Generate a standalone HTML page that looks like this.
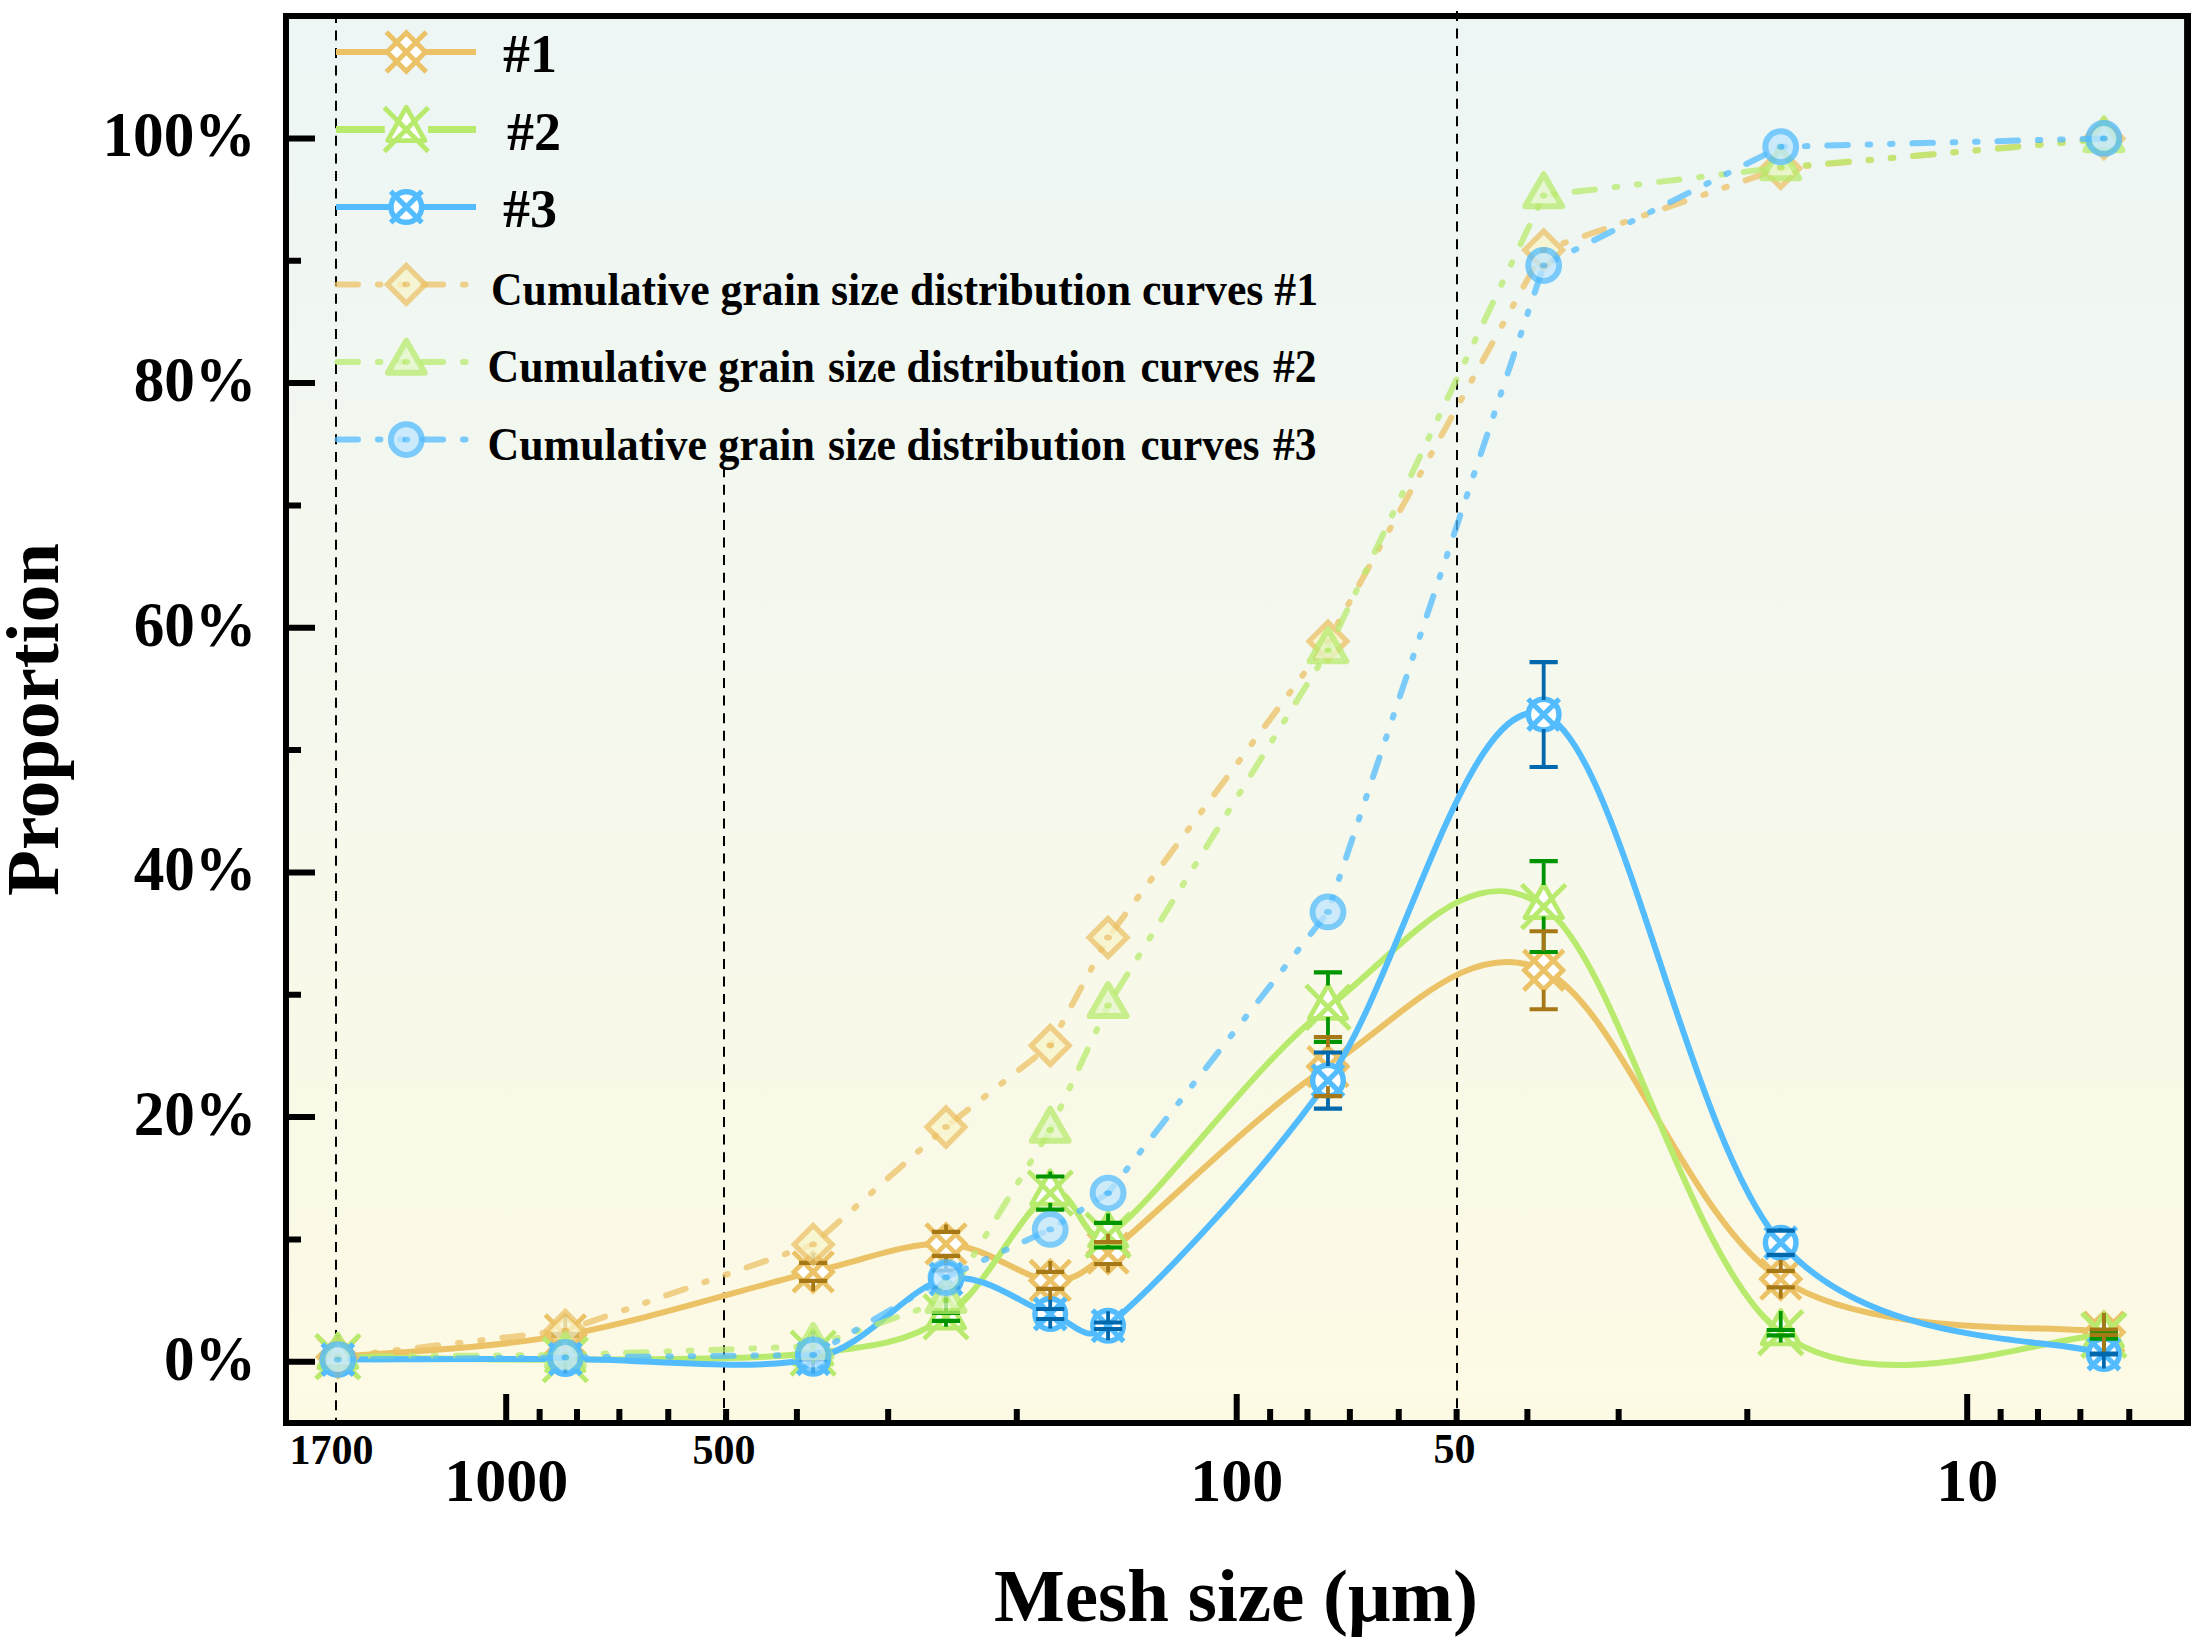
<!DOCTYPE html>
<html><head><meta charset="utf-8"><title>Grain size distribution</title>
<style>
html,body{margin:0;padding:0;background:#fff}
svg{display:block}
text{font-family:"Liberation Serif","Times New Roman",serif;font-weight:bold;fill:#000}
</style></head><body>
<svg width="2204" height="1648" viewBox="0 0 2204 1648">
<defs><linearGradient id="bg" x1="0" y1="0" x2="0" y2="1"><stop offset="0" stop-color="#EDF6F5"/><stop offset="1" stop-color="#FDFAE4"/></linearGradient></defs>
<rect width="2204" height="1648" fill="#fff"/>
<rect x="286" y="16" width="1902" height="1407" fill="url(#bg)"/>

<g stroke="#000" stroke-width="2" stroke-dasharray="10 7.56" fill="none">
<path d="M336 12.9V1422"/><path d="M724 467.3V1422"/><path d="M1457 10.9V1422"/></g>
<g stroke="#000" stroke-width="6" fill="none">
<path d="M286 1361.8H315M286 1117.12H315M286 872.44H315M286 627.76H315M286 383.08H315M286 138.4H315M286 1239.46H301M286 994.78H301M286 750.1H301M286 505.42H301M286 260.74H301M506.2 1423V1394M1236.7 1423V1394M1967.2 1423V1394M1016.8 1423V1409M888.16 1423V1409M796.9 1423V1409M726.1 1423V1409M668.26 1423V1409M619.36 1423V1409M576.99 1423V1409M539.63 1423V1409M1747.3 1423V1409M1618.66 1423V1409M1527.4 1423V1409M1456.6 1423V1409M1398.76 1423V1409M1349.86 1423V1409M1307.49 1423V1409M1270.13 1423V1409M2129.26 1423V1409M2080.36 1423V1409M2037.99 1423V1409M2000.63 1423V1409"/></g>
<path d="M337.86 1357C375.77 1353.32 486.09 1349.08 565.31 1334.9C644.53 1320.72 749.72 1287.07 813.17 1271.9C868.96 1258.56 906.5 1242.48 946 1243.9C985.51 1245.32 1023.21 1278.87 1050.22 1280.4C1074.52 1281.78 1083.77 1271.8 1108.07 1253.1C1154.36 1217.47 1255.37 1113.74 1327.97 1066.6C1400.57 1019.46 1468.21 934.83 1543.67 970.25C1619.13 1005.67 1687.36 1218.77 1780.72 1279.1C1874.09 1339.42 2050.01 1323.35 2103.87 1332.2" stroke="#ECC266" stroke-width="6" fill="none" stroke-linejoin="round"/>
<g transform="translate(337.86 1357)" stroke="#ECC266" stroke-width="4.8" fill="#fff"><path d="M0 -19.25L19.25 0L0 19.25L-19.25 0Z" stroke-linejoin="miter"/><path d="M-20 -20L20 20M-20 20L20 -20" fill="none"/></g>
<g transform="translate(565.31 1334.9)" stroke="#ECC266" stroke-width="4.8" fill="#fff"><path d="M0 -19.25L19.25 0L0 19.25L-19.25 0Z" stroke-linejoin="miter"/><path d="M-20 -20L20 20M-20 20L20 -20" fill="none"/></g>
<g transform="translate(813.17 1271.9)" stroke="#ECC266" stroke-width="4.8" fill="#fff"><path d="M0 -19.25L19.25 0L0 19.25L-19.25 0Z" stroke-linejoin="miter"/><path d="M-20 -20L20 20M-20 20L20 -20" fill="none"/></g>
<g transform="translate(946 1243.9)" stroke="#ECC266" stroke-width="4.8" fill="#fff"><path d="M0 -19.25L19.25 0L0 19.25L-19.25 0Z" stroke-linejoin="miter"/><path d="M-20 -20L20 20M-20 20L20 -20" fill="none"/></g>
<g transform="translate(1050.22 1280.4)" stroke="#ECC266" stroke-width="4.8" fill="#fff"><path d="M0 -19.25L19.25 0L0 19.25L-19.25 0Z" stroke-linejoin="miter"/><path d="M-20 -20L20 20M-20 20L20 -20" fill="none"/></g>
<g transform="translate(1108.07 1253.1)" stroke="#ECC266" stroke-width="4.8" fill="#fff"><path d="M0 -19.25L19.25 0L0 19.25L-19.25 0Z" stroke-linejoin="miter"/><path d="M-20 -20L20 20M-20 20L20 -20" fill="none"/></g>
<g transform="translate(1327.97 1066.6)" stroke="#ECC266" stroke-width="4.8" fill="#fff"><path d="M0 -19.25L19.25 0L0 19.25L-19.25 0Z" stroke-linejoin="miter"/><path d="M-20 -20L20 20M-20 20L20 -20" fill="none"/></g>
<g transform="translate(1543.67 970.25)" stroke="#ECC266" stroke-width="4.8" fill="#fff"><path d="M0 -19.25L19.25 0L0 19.25L-19.25 0Z" stroke-linejoin="miter"/><path d="M-20 -20L20 20M-20 20L20 -20" fill="none"/></g>
<g transform="translate(1780.72 1279.1)" stroke="#ECC266" stroke-width="4.8" fill="#fff"><path d="M0 -19.25L19.25 0L0 19.25L-19.25 0Z" stroke-linejoin="miter"/><path d="M-20 -20L20 20M-20 20L20 -20" fill="none"/></g>
<g transform="translate(2103.87 1332.2)" stroke="#ECC266" stroke-width="4.8" fill="#fff"><path d="M0 -19.25L19.25 0L0 19.25L-19.25 0Z" stroke-linejoin="miter"/><path d="M-20 -20L20 20M-20 20L20 -20" fill="none"/></g>
<path d="M337.86 1356.6C375.77 1357.1 486.09 1360.18 565.31 1359.6C644.53 1359.02 749.72 1360.22 813.17 1353.1C868.96 1346.84 906.5 1343.57 946 1316.9C985.51 1290.23 1023.21 1206.72 1050.22 1193.1C1074.52 1180.85 1083.77 1251.46 1108.07 1235.2C1154.36 1204.22 1255.37 1061.97 1327.97 1007.2C1400.57 952.43 1468.21 852.35 1543.67 906.6C1619.13 960.85 1687.36 1261.25 1780.72 1332.7C1874.09 1404.15 2050.01 1334.87 2103.87 1335.3" stroke="#B8EB6D" stroke-width="6" fill="none" stroke-linejoin="round"/>
<g transform="translate(337.86 1356.6)" stroke="#B8EB6D" stroke-width="4.8" fill="#fff"><path d="M0 -22.3L18.7 11.1L-18.7 11.1Z" stroke-linejoin="round"/><path d="M-22 -22L22 22M-22 22L22 -22" fill="none"/></g>
<g transform="translate(565.31 1359.6)" stroke="#B8EB6D" stroke-width="4.8" fill="#fff"><path d="M0 -22.3L18.7 11.1L-18.7 11.1Z" stroke-linejoin="round"/><path d="M-22 -22L22 22M-22 22L22 -22" fill="none"/></g>
<g transform="translate(813.17 1353.1)" stroke="#B8EB6D" stroke-width="4.8" fill="#fff"><path d="M0 -22.3L18.7 11.1L-18.7 11.1Z" stroke-linejoin="round"/><path d="M-22 -22L22 22M-22 22L22 -22" fill="none"/></g>
<g transform="translate(946 1316.9)" stroke="#B8EB6D" stroke-width="4.8" fill="#fff"><path d="M0 -22.3L18.7 11.1L-18.7 11.1Z" stroke-linejoin="round"/><path d="M-22 -22L22 22M-22 22L22 -22" fill="none"/></g>
<g transform="translate(1050.22 1193.1)" stroke="#B8EB6D" stroke-width="4.8" fill="#fff"><path d="M0 -22.3L18.7 11.1L-18.7 11.1Z" stroke-linejoin="round"/><path d="M-22 -22L22 22M-22 22L22 -22" fill="none"/></g>
<g transform="translate(1108.07 1235.2)" stroke="#B8EB6D" stroke-width="4.8" fill="#fff"><path d="M0 -22.3L18.7 11.1L-18.7 11.1Z" stroke-linejoin="round"/><path d="M-22 -22L22 22M-22 22L22 -22" fill="none"/></g>
<g transform="translate(1327.97 1007.2)" stroke="#B8EB6D" stroke-width="4.8" fill="#fff"><path d="M0 -22.3L18.7 11.1L-18.7 11.1Z" stroke-linejoin="round"/><path d="M-22 -22L22 22M-22 22L22 -22" fill="none"/></g>
<g transform="translate(1543.67 906.6)" stroke="#B8EB6D" stroke-width="4.8" fill="#fff"><path d="M0 -22.3L18.7 11.1L-18.7 11.1Z" stroke-linejoin="round"/><path d="M-22 -22L22 22M-22 22L22 -22" fill="none"/></g>
<g transform="translate(1780.72 1332.7)" stroke="#B8EB6D" stroke-width="4.8" fill="#fff"><path d="M0 -22.3L18.7 11.1L-18.7 11.1Z" stroke-linejoin="round"/><path d="M-22 -22L22 22M-22 22L22 -22" fill="none"/></g>
<g transform="translate(2103.87 1335.3)" stroke="#B8EB6D" stroke-width="4.8" fill="#fff"><path d="M0 -22.3L18.7 11.1L-18.7 11.1Z" stroke-linejoin="round"/><path d="M-22 -22L22 22M-22 22L22 -22" fill="none"/></g>
<path d="M337.86 1359.6C375.77 1359.48 486.09 1359.04 565.31 1358.9C644.53 1358.76 749.72 1372.07 813.17 1358.75C868.96 1347.04 906.5 1286.46 946 1279C985.51 1271.54 1023.21 1306.21 1050.22 1314C1074.52 1321.01 1083.77 1346.16 1108.07 1325.75C1154.36 1286.85 1255.37 1182.46 1327.97 1080.6C1400.57 978.74 1468.21 687.58 1543.67 714.6C1619.13 741.62 1687.36 1136.18 1780.72 1242.75C1874.09 1349.32 2050.01 1335.46 2103.87 1354" stroke="#52BCFF" stroke-width="6" fill="none" stroke-linejoin="round"/>
<g transform="translate(337.86 1359.6)" stroke="#52BCFF" stroke-width="5.4" fill="#fff"><circle r="15.3"/><path d="M-15.6 -15.6L15.6 15.6M-15.6 15.6L15.6 -15.6" fill="none" stroke-width="5.2"/></g>
<g transform="translate(565.31 1358.9)" stroke="#52BCFF" stroke-width="5.4" fill="#fff"><circle r="15.3"/><path d="M-15.6 -15.6L15.6 15.6M-15.6 15.6L15.6 -15.6" fill="none" stroke-width="5.2"/></g>
<g transform="translate(813.17 1358.75)" stroke="#52BCFF" stroke-width="5.4" fill="#fff"><circle r="15.3"/><path d="M-15.6 -15.6L15.6 15.6M-15.6 15.6L15.6 -15.6" fill="none" stroke-width="5.2"/></g>
<g transform="translate(946 1279)" stroke="#52BCFF" stroke-width="5.4" fill="#fff"><circle r="15.3"/><path d="M-15.6 -15.6L15.6 15.6M-15.6 15.6L15.6 -15.6" fill="none" stroke-width="5.2"/></g>
<g transform="translate(1050.22 1314)" stroke="#52BCFF" stroke-width="5.4" fill="#fff"><circle r="15.3"/><path d="M-15.6 -15.6L15.6 15.6M-15.6 15.6L15.6 -15.6" fill="none" stroke-width="5.2"/></g>
<g transform="translate(1108.07 1325.75)" stroke="#52BCFF" stroke-width="5.4" fill="#fff"><circle r="15.3"/><path d="M-15.6 -15.6L15.6 15.6M-15.6 15.6L15.6 -15.6" fill="none" stroke-width="5.2"/></g>
<g transform="translate(1327.97 1080.6)" stroke="#52BCFF" stroke-width="5.4" fill="#fff"><circle r="15.3"/><path d="M-15.6 -15.6L15.6 15.6M-15.6 15.6L15.6 -15.6" fill="none" stroke-width="5.2"/></g>
<g transform="translate(1543.67 714.6)" stroke="#52BCFF" stroke-width="5.4" fill="#fff"><circle r="15.3"/><path d="M-15.6 -15.6L15.6 15.6M-15.6 15.6L15.6 -15.6" fill="none" stroke-width="5.2"/></g>
<g transform="translate(1780.72 1242.75)" stroke="#52BCFF" stroke-width="5.4" fill="#fff"><circle r="15.3"/><path d="M-15.6 -15.6L15.6 15.6M-15.6 15.6L15.6 -15.6" fill="none" stroke-width="5.2"/></g>
<g transform="translate(2103.87 1354)" stroke="#52BCFF" stroke-width="5.4" fill="#fff"><circle r="15.3"/><path d="M-15.6 -15.6L15.6 15.6M-15.6 15.6L15.6 -15.6" fill="none" stroke-width="5.2"/></g>
<g stroke="#0069AD" fill="none"><path d="M337.86 1359.3V1345.1M337.86 1359.9V1374.1" stroke-width="3.8"/><path d="M323.76 1359.3H351.96M323.76 1359.9H351.96" stroke-width="4.2"/></g>
<g stroke="#0069AD" fill="none"><path d="M565.31 1358.4V1344.4M565.31 1359.4V1373.4" stroke-width="3.8"/><path d="M551.21 1358.4H579.41M551.21 1359.4H579.41" stroke-width="4.2"/></g>
<g stroke="#0069AD" fill="none"><path d="M813.17 1357.95V1344.25M813.17 1359.55V1373.25" stroke-width="3.8"/><path d="M799.07 1357.95H827.27M799.07 1359.55H827.27" stroke-width="4.2"/></g>
<g stroke="#0069AD" fill="none"><path d="M946 1270.5V1264.5M946 1287.5V1293.5" stroke-width="3.8"/><path d="M931.9 1270.5H960.1M931.9 1287.5H960.1" stroke-width="4.2"/></g>
<g stroke="#0069AD" fill="none"><path d="M1050.22 1309V1299.5M1050.22 1319V1328.5" stroke-width="3.8"/><path d="M1036.12 1309H1064.32M1036.12 1319H1064.32" stroke-width="4.2"/></g>
<g stroke="#0069AD" fill="none"><path d="M1108.07 1322.5V1311.25M1108.07 1329V1340.25" stroke-width="3.8"/><path d="M1093.97 1322.5H1122.17M1093.97 1329H1122.17" stroke-width="4.2"/></g>
<g stroke="#0069AD" fill="none"><path d="M1327.97 1052.5V1066.1M1327.97 1108.7V1095.1" stroke-width="3.8"/><path d="M1313.87 1052.5H1342.07M1313.87 1108.7H1342.07" stroke-width="4.2"/></g>
<g stroke="#0069AD" fill="none"><path d="M1543.67 662.2V700.1M1543.67 767V729.1" stroke-width="3.8"/><path d="M1529.57 662.2H1557.77M1529.57 767H1557.77" stroke-width="4.2"/></g>
<g stroke="#0069AD" fill="none"><path d="M1780.72 1230.69V1228.25M1780.72 1254.81V1257.25" stroke-width="3.8"/><path d="M1766.62 1230.69H1794.82M1766.62 1254.81H1794.82" stroke-width="4.2"/></g>
<g stroke="#0069AD" fill="none"><path d="M2103.87 1353.6V1339.5M2103.87 1354.4V1368.5" stroke-width="3.8"/><path d="M2089.77 1353.6H2117.97M2089.77 1354.4H2117.97" stroke-width="4.2"/></g>
<g stroke="#009400" fill="none"><path d="M337.86 1356.1V1335M337.86 1357.1V1366.5" stroke-width="3.8"/><path d="M323.76 1356.1H351.96M323.76 1357.1H351.96" stroke-width="4.2"/></g>
<g stroke="#009400" fill="none"><path d="M565.31 1359.1V1338M565.31 1360.1V1369.5" stroke-width="3.8"/><path d="M551.21 1359.1H579.41M551.21 1360.1H579.41" stroke-width="4.2"/></g>
<g stroke="#009400" fill="none"><path d="M813.17 1352.1V1331.5M813.17 1354.1V1363" stroke-width="3.8"/><path d="M799.07 1352.1H827.27M799.07 1354.1H827.27" stroke-width="4.2"/></g>
<g stroke="#009400" fill="none"><path d="M946 1312.9V1295.3M946 1320.9V1326.8" stroke-width="3.8"/><path d="M931.9 1312.9H960.1M931.9 1320.9H960.1" stroke-width="4.2"/></g>
<g stroke="#009400" fill="none"><path d="M1050.22 1176.5V1171.5M1050.22 1209.7V1203" stroke-width="3.8"/><path d="M1036.12 1176.5H1064.32M1036.12 1209.7H1064.32" stroke-width="4.2"/></g>
<g stroke="#009400" fill="none"><path d="M1108.07 1222.9V1213.6M1108.07 1247.5V1245.1" stroke-width="3.8"/><path d="M1093.97 1222.9H1122.17M1093.97 1247.5H1122.17" stroke-width="4.2"/></g>
<g stroke="#009400" fill="none"><path d="M1327.97 972.45V985.6M1327.97 1041.95V1017.1" stroke-width="3.8"/><path d="M1313.87 972.45H1342.07M1313.87 1041.95H1342.07" stroke-width="4.2"/></g>
<g stroke="#009400" fill="none"><path d="M1543.67 861.2V885M1543.67 952V916.5" stroke-width="3.8"/><path d="M1529.57 861.2H1557.77M1529.57 952H1557.77" stroke-width="4.2"/></g>
<g stroke="#009400" fill="none"><path d="M1780.72 1330V1311.1M1780.72 1335.4V1342.6" stroke-width="3.8"/><path d="M1766.62 1330H1794.82M1766.62 1335.4H1794.82" stroke-width="4.2"/></g>
<g stroke="#009400" fill="none"><path d="M2103.87 1332V1313.7M2103.87 1338.6V1345.2" stroke-width="3.8"/><path d="M2089.77 1332H2117.97M2089.77 1338.6H2117.97" stroke-width="4.2"/></g>
<g stroke="#A67816" fill="none"><path d="M337.86 1356.5V1337.6M337.86 1357.5V1376.4" stroke-width="3.8"/><path d="M323.76 1356.5H351.96M323.76 1357.5H351.96" stroke-width="4.2"/></g>
<g stroke="#A67816" fill="none"><path d="M565.31 1333.9V1315.5M565.31 1335.9V1354.3" stroke-width="3.8"/><path d="M551.21 1333.9H579.41M551.21 1335.9H579.41" stroke-width="4.2"/></g>
<g stroke="#A67816" fill="none"><path d="M813.17 1262.84V1252.5M813.17 1280.96V1291.3" stroke-width="3.8"/><path d="M799.07 1262.84H827.27M799.07 1280.96H827.27" stroke-width="4.2"/></g>
<g stroke="#A67816" fill="none"><path d="M946 1231.9V1224.5M946 1255.9V1263.3" stroke-width="3.8"/><path d="M931.9 1231.9H960.1M931.9 1255.9H960.1" stroke-width="4.2"/></g>
<g stroke="#A67816" fill="none"><path d="M1050.22 1271.84V1261M1050.22 1288.96V1299.8" stroke-width="3.8"/><path d="M1036.12 1271.84H1064.32M1036.12 1288.96H1064.32" stroke-width="4.2"/></g>
<g stroke="#A67816" fill="none"><path d="M1108.07 1242.2V1233.7M1108.07 1264V1272.5" stroke-width="3.8"/><path d="M1093.97 1242.2H1122.17M1093.97 1264H1122.17" stroke-width="4.2"/></g>
<g stroke="#A67816" fill="none"><path d="M1327.97 1037V1047.2M1327.97 1096.2V1086" stroke-width="3.8"/><path d="M1313.87 1037H1342.07M1313.87 1096.2H1342.07" stroke-width="4.2"/></g>
<g stroke="#A67816" fill="none"><path d="M1543.67 931.25V950.85M1543.67 1009.25V989.65" stroke-width="3.8"/><path d="M1529.57 931.25H1557.77M1529.57 1009.25H1557.77" stroke-width="4.2"/></g>
<g stroke="#A67816" fill="none"><path d="M1780.72 1270.9V1259.7M1780.72 1287.3V1298.5" stroke-width="3.8"/><path d="M1766.62 1270.9H1794.82M1766.62 1287.3H1794.82" stroke-width="4.2"/></g>
<g stroke="#A67816" fill="none"><path d="M2103.87 1329.5V1312.8M2103.87 1334.9V1351.6" stroke-width="3.8"/><path d="M2089.77 1329.5H2117.97M2089.77 1334.9H2117.97" stroke-width="4.2"/></g>
<path d="M2103.87 138.5 L1780.72 168.25 L1543.67 250 L1327.97 641.25 L1108.07 937.5 L1050.22 1045.5 L946 1127 L813.17 1244.4 L565.31 1330.5 L337.86 1357" stroke="#ECC266" stroke-width="6" fill="none" stroke-dasharray="20.5 19.9 2.5 19.8 2.5 19.9" stroke-dashoffset="-0.85" stroke-linecap="round" opacity="0.75"/>
<g transform="translate(337.86 1357)" opacity="0.75"><path d="M0 -18.9L18.9 0L0 18.9L-18.9 0Z" stroke="#ECC266" stroke-width="5.3" fill="#F8F5C9"/><ellipse rx="3.9" ry="2.9" fill="#ECC266"/></g>
<g transform="translate(565.31 1330.5)" opacity="0.75"><path d="M0 -18.9L18.9 0L0 18.9L-18.9 0Z" stroke="#ECC266" stroke-width="5.3" fill="#F8F5C9"/><ellipse rx="3.9" ry="2.9" fill="#ECC266"/></g>
<g transform="translate(813.17 1244.4)" opacity="0.75"><path d="M0 -18.9L18.9 0L0 18.9L-18.9 0Z" stroke="#ECC266" stroke-width="5.3" fill="#F8F5C9"/><ellipse rx="3.9" ry="2.9" fill="#ECC266"/></g>
<g transform="translate(946 1127)" opacity="0.75"><path d="M0 -18.9L18.9 0L0 18.9L-18.9 0Z" stroke="#ECC266" stroke-width="5.3" fill="#F8F5C9"/><ellipse rx="3.9" ry="2.9" fill="#ECC266"/></g>
<g transform="translate(1050.22 1045.5)" opacity="0.75"><path d="M0 -18.9L18.9 0L0 18.9L-18.9 0Z" stroke="#ECC266" stroke-width="5.3" fill="#F8F5C9"/><ellipse rx="3.9" ry="2.9" fill="#ECC266"/></g>
<g transform="translate(1108.07 937.5)" opacity="0.75"><path d="M0 -18.9L18.9 0L0 18.9L-18.9 0Z" stroke="#ECC266" stroke-width="5.3" fill="#F8F5C9"/><ellipse rx="3.9" ry="2.9" fill="#ECC266"/></g>
<g transform="translate(1327.97 641.25)" opacity="0.75"><path d="M0 -18.9L18.9 0L0 18.9L-18.9 0Z" stroke="#ECC266" stroke-width="5.3" fill="#F8F5C9"/><ellipse rx="3.9" ry="2.9" fill="#ECC266"/></g>
<g transform="translate(1543.67 250)" opacity="0.75"><path d="M0 -18.9L18.9 0L0 18.9L-18.9 0Z" stroke="#ECC266" stroke-width="5.3" fill="#F8F5C9"/><ellipse rx="3.9" ry="2.9" fill="#ECC266"/></g>
<g transform="translate(1780.72 168.25)" opacity="0.75"><path d="M0 -18.9L18.9 0L0 18.9L-18.9 0Z" stroke="#ECC266" stroke-width="5.3" fill="#F8F5C9"/><ellipse rx="3.9" ry="2.9" fill="#ECC266"/></g>
<g transform="translate(2103.87 138.5)" opacity="0.75"><path d="M0 -18.9L18.9 0L0 18.9L-18.9 0Z" stroke="#ECC266" stroke-width="5.3" fill="#F8F5C9"/><ellipse rx="3.9" ry="2.9" fill="#ECC266"/></g>
<path d="M2103.87 139.5 L1780.72 167.5 L1543.67 195.5 L1327.97 650.6 L1108.07 1005.4 L1050.22 1130 L946 1300.25 L813.17 1346.3 L565.31 1355 L337.86 1356.6" stroke="#B8EB6D" stroke-width="6" fill="none" stroke-dasharray="20.5 19.9 2.5 19.8 2.5 19.9" stroke-dashoffset="-0.85" stroke-linecap="round" opacity="0.75"/>
<g transform="translate(337.86 1356.6)" opacity="0.75"><path d="M0 -21.3L18.45 10.65L-18.45 10.65Z" stroke="#B8EB6D" stroke-width="6" fill="#E4F7C8" stroke-linejoin="round"/><ellipse rx="3.9" ry="2.9" fill="#B8EB6D"/></g>
<g transform="translate(565.31 1355)" opacity="0.75"><path d="M0 -21.3L18.45 10.65L-18.45 10.65Z" stroke="#B8EB6D" stroke-width="6" fill="#E4F7C8" stroke-linejoin="round"/><ellipse rx="3.9" ry="2.9" fill="#B8EB6D"/></g>
<g transform="translate(813.17 1346.3)" opacity="0.75"><path d="M0 -21.3L18.45 10.65L-18.45 10.65Z" stroke="#B8EB6D" stroke-width="6" fill="#E4F7C8" stroke-linejoin="round"/><ellipse rx="3.9" ry="2.9" fill="#B8EB6D"/></g>
<g transform="translate(946 1300.25)" opacity="0.75"><path d="M0 -21.3L18.45 10.65L-18.45 10.65Z" stroke="#B8EB6D" stroke-width="6" fill="#E4F7C8" stroke-linejoin="round"/><ellipse rx="3.9" ry="2.9" fill="#B8EB6D"/></g>
<g transform="translate(1050.22 1130)" opacity="0.75"><path d="M0 -21.3L18.45 10.65L-18.45 10.65Z" stroke="#B8EB6D" stroke-width="6" fill="#E4F7C8" stroke-linejoin="round"/><ellipse rx="3.9" ry="2.9" fill="#B8EB6D"/></g>
<g transform="translate(1108.07 1005.4)" opacity="0.75"><path d="M0 -21.3L18.45 10.65L-18.45 10.65Z" stroke="#B8EB6D" stroke-width="6" fill="#E4F7C8" stroke-linejoin="round"/><ellipse rx="3.9" ry="2.9" fill="#B8EB6D"/></g>
<g transform="translate(1327.97 650.6)" opacity="0.75"><path d="M0 -21.3L18.45 10.65L-18.45 10.65Z" stroke="#B8EB6D" stroke-width="6" fill="#E4F7C8" stroke-linejoin="round"/><ellipse rx="3.9" ry="2.9" fill="#B8EB6D"/></g>
<g transform="translate(1543.67 195.5)" opacity="0.75"><path d="M0 -21.3L18.45 10.65L-18.45 10.65Z" stroke="#B8EB6D" stroke-width="6" fill="#E4F7C8" stroke-linejoin="round"/><ellipse rx="3.9" ry="2.9" fill="#B8EB6D"/></g>
<g transform="translate(1780.72 167.5)" opacity="0.75"><path d="M0 -21.3L18.45 10.65L-18.45 10.65Z" stroke="#B8EB6D" stroke-width="6" fill="#E4F7C8" stroke-linejoin="round"/><ellipse rx="3.9" ry="2.9" fill="#B8EB6D"/></g>
<g transform="translate(2103.87 139.5)" opacity="0.75"><path d="M0 -21.3L18.45 10.65L-18.45 10.65Z" stroke="#B8EB6D" stroke-width="6" fill="#E4F7C8" stroke-linejoin="round"/><ellipse rx="3.9" ry="2.9" fill="#B8EB6D"/></g>
<path d="M2103.87 138.4 L1780.72 146.75 L1543.67 265.5 L1327.97 911.9 L1108.07 1193.1 L1050.22 1229.4 L946 1277.5 L813.17 1355 L565.31 1357.5 L337.86 1359.6" stroke="#52BCFF" stroke-width="6" fill="none" stroke-dasharray="20.5 19.9 2.5 19.8 2.5 19.9" stroke-dashoffset="-0.85" stroke-linecap="round" opacity="0.75"/>
<g transform="translate(337.86 1359.6)" opacity="0.75"><circle r="15.4" stroke="#52BCFF" stroke-width="6" fill="#BEE6FF"/><ellipse rx="3.9" ry="2.9" fill="#52BCFF"/></g>
<g transform="translate(565.31 1357.5)" opacity="0.75"><circle r="15.4" stroke="#52BCFF" stroke-width="6" fill="#BEE6FF"/><ellipse rx="3.9" ry="2.9" fill="#52BCFF"/></g>
<g transform="translate(813.17 1355)" opacity="0.75"><circle r="15.4" stroke="#52BCFF" stroke-width="6" fill="#BEE6FF"/><ellipse rx="3.9" ry="2.9" fill="#52BCFF"/></g>
<g transform="translate(946 1277.5)" opacity="0.75"><circle r="15.4" stroke="#52BCFF" stroke-width="6" fill="#BEE6FF"/><ellipse rx="3.9" ry="2.9" fill="#52BCFF"/></g>
<g transform="translate(1050.22 1229.4)" opacity="0.75"><circle r="15.4" stroke="#52BCFF" stroke-width="6" fill="#BEE6FF"/><ellipse rx="3.9" ry="2.9" fill="#52BCFF"/></g>
<g transform="translate(1108.07 1193.1)" opacity="0.75"><circle r="15.4" stroke="#52BCFF" stroke-width="6" fill="#BEE6FF"/><ellipse rx="3.9" ry="2.9" fill="#52BCFF"/></g>
<g transform="translate(1327.97 911.9)" opacity="0.75"><circle r="15.4" stroke="#52BCFF" stroke-width="6" fill="#BEE6FF"/><ellipse rx="3.9" ry="2.9" fill="#52BCFF"/></g>
<g transform="translate(1543.67 265.5)" opacity="0.75"><circle r="15.4" stroke="#52BCFF" stroke-width="6" fill="#BEE6FF"/><ellipse rx="3.9" ry="2.9" fill="#52BCFF"/></g>
<g transform="translate(1780.72 146.75)" opacity="0.75"><circle r="15.4" stroke="#52BCFF" stroke-width="6" fill="#BEE6FF"/><ellipse rx="3.9" ry="2.9" fill="#52BCFF"/></g>
<g transform="translate(2103.87 138.4)" opacity="0.75"><circle r="15.4" stroke="#52BCFF" stroke-width="6" fill="#BEE6FF"/><ellipse rx="3.9" ry="2.9" fill="#52BCFF"/></g>
<rect x="286" y="16" width="1902" height="1407" fill="none" stroke="#000" stroke-width="6"/>
<path d="M2187.55 13V1426" stroke="#000" stroke-width="6.9"/>
<path d="M336 52H476" stroke="#ECC266" stroke-width="6"/><g transform="translate(406.3 52)" stroke="#ECC266" stroke-width="4.8" fill="#fff"><path d="M0 -19.25L19.25 0L0 19.25L-19.25 0Z" stroke-linejoin="miter"/><path d="M-20 -20L20 20M-20 20L20 -20" fill="none"/></g>
<path d="M336 129.5H384.8M428 129.5H476" stroke="#B8EB6D" stroke-width="7"/><g transform="translate(406.3 129.5)" stroke="#B8EB6D" stroke-width="4.8" fill="#fff"><path d="M0 -22.3L18.7 11.1L-18.7 11.1Z" stroke-linejoin="round"/><path d="M-22 -22L22 22M-22 22L22 -22" fill="none"/></g>
<path d="M336 207H476" stroke="#52BCFF" stroke-width="6"/><g transform="translate(406.3 207)" stroke="#52BCFF" stroke-width="5.4" fill="#fff"><circle r="15.3"/><path d="M-15.6 -15.6L15.6 15.6M-15.6 15.6L15.6 -15.6" fill="none" stroke-width="5.2"/></g>
<path d="M337.5 284.4H476" stroke="#ECC266" stroke-width="6" fill="none" stroke-dasharray="20.5 19.9 2.5 19.8 2.5 19.9" stroke-linecap="round" opacity="0.75"/>
<g transform="translate(406.3 284.4)" opacity="0.75"><path d="M0 -18.9L18.9 0L0 18.9L-18.9 0Z" stroke="#ECC266" stroke-width="5.3" fill="#F8F5C9"/><ellipse rx="3.9" ry="2.9" fill="#ECC266"/></g>
<path d="M337.5 362H476" stroke="#B8EB6D" stroke-width="6" fill="none" stroke-dasharray="20.5 19.9 2.5 19.8 2.5 19.9" stroke-linecap="round" opacity="0.75"/>
<g transform="translate(406.3 362)" opacity="0.75"><path d="M0 -21.3L18.45 10.65L-18.45 10.65Z" stroke="#B8EB6D" stroke-width="6" fill="#E4F7C8" stroke-linejoin="round"/><ellipse rx="3.9" ry="2.9" fill="#B8EB6D"/></g>
<path d="M337.5 439.6H476" stroke="#52BCFF" stroke-width="6" fill="none" stroke-dasharray="20.5 19.9 2.5 19.8 2.5 19.9" stroke-linecap="round" opacity="0.75"/>
<g transform="translate(406.3 439.6)" opacity="0.75"><circle r="15.4" stroke="#52BCFF" stroke-width="6" fill="#BEE6FF"/><ellipse rx="3.9" ry="2.9" fill="#52BCFF"/></g>
<text x="503" y="72" font-size="54">#1</text>
<text x="507" y="149.8" font-size="54">#2</text>
<text x="503" y="227.2" font-size="54">#3</text>
<text x="491" y="305" font-size="46" textLength="827" lengthAdjust="spacingAndGlyphs">Cumulative grain size distribution curves #1</text>
<text y="382.3" font-size="46"><tspan x="487.5" textLength="219.5" lengthAdjust="spacingAndGlyphs">Cumulative</tspan> <tspan x="718.3" textLength="96.5" lengthAdjust="spacingAndGlyphs">grain</tspan> <tspan x="828" textLength="68" lengthAdjust="spacingAndGlyphs">size</tspan> <tspan x="906.5" textLength="219.5" lengthAdjust="spacingAndGlyphs">distribution</tspan> <tspan x="1140.5" textLength="119" lengthAdjust="spacingAndGlyphs">curves</tspan> <tspan x="1273" textLength="43.5" lengthAdjust="spacingAndGlyphs">#2</tspan></text>
<text y="460.4" font-size="46"><tspan x="487.5" textLength="219.5" lengthAdjust="spacingAndGlyphs">Cumulative</tspan> <tspan x="718.3" textLength="96.5" lengthAdjust="spacingAndGlyphs">grain</tspan> <tspan x="828" textLength="68" lengthAdjust="spacingAndGlyphs">size</tspan> <tspan x="906.5" textLength="219.5" lengthAdjust="spacingAndGlyphs">distribution</tspan> <tspan x="1140.5" textLength="119" lengthAdjust="spacingAndGlyphs">curves</tspan> <tspan x="1273" textLength="43.5" lengthAdjust="spacingAndGlyphs">#3</tspan></text>
<text x="164.1" y="1380.1" font-size="62.7" textLength="91.7" lengthAdjust="spacingAndGlyphs">0%</text>
<text x="133.7" y="1135.24" font-size="62.7" textLength="122.6" lengthAdjust="spacingAndGlyphs">20%</text>
<text x="133.7" y="890.38" font-size="62.7" textLength="122.6" lengthAdjust="spacingAndGlyphs">40%</text>
<text x="133.7" y="645.52" font-size="62.7" textLength="122.6" lengthAdjust="spacingAndGlyphs">60%</text>
<text x="133.7" y="400.66" font-size="62.7" textLength="122.6" lengthAdjust="spacingAndGlyphs">80%</text>
<text x="102.4" y="155.8" font-size="62.7" textLength="153.2" lengthAdjust="spacingAndGlyphs">100%</text>
<text x="506.2" y="1500.7" font-size="62" text-anchor="middle">1000</text>
<text x="1236.7" y="1500.7" font-size="62" text-anchor="middle">100</text>
<text x="1967.2" y="1500.7" font-size="62" text-anchor="middle">10</text>
<text x="331.5" y="1464" font-size="42" text-anchor="middle">1700</text>
<text x="724" y="1464" font-size="42" text-anchor="middle">500</text>
<text x="1454.5" y="1462.5" font-size="42" text-anchor="middle">50</text>
<text x="1236" y="1621" font-size="75" text-anchor="middle">Mesh size (μm)</text>
<text transform="translate(58 719.5) rotate(-90)" font-size="75" text-anchor="middle">Proportion</text>
</svg></body></html>
